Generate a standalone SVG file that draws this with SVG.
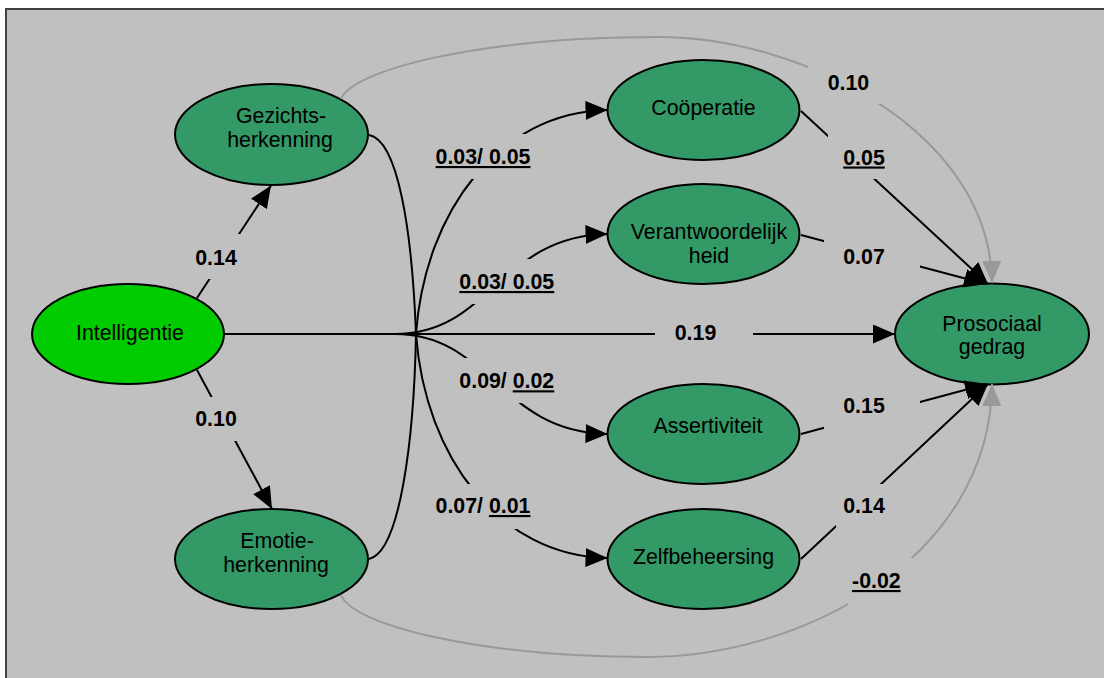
<svg xmlns="http://www.w3.org/2000/svg" width="1104" height="678" viewBox="0 0 1104 678">
<defs>
<style>
.nd{stroke:#000;stroke-width:2}
.g{fill:#339966}
.lg{fill:#00cc00}
.nt{font-family:"Liberation Sans",Arial,sans-serif;font-size:21.33px;fill:#000;text-anchor:middle}
.c{fill:none;stroke:#000;stroke-width:2}
.cg{fill:none;stroke:#999999;stroke-width:2}
.lb{fill:#c0c0c0}
.lt{font-family:"Liberation Sans",Arial,sans-serif;font-size:21.33px;font-weight:bold;fill:#000;text-anchor:middle}
.u{text-decoration:underline}
</style>
<marker id="ab" markerUnits="userSpaceOnUse" viewBox="0 0 22 19" refX="22" refY="9.5" markerWidth="22" markerHeight="19" orient="auto"><path d="M0,0 L22,9.5 L0,19 z" fill="#000"/></marker>
<marker id="ag" markerUnits="userSpaceOnUse" viewBox="0 0 22 19" refX="22" refY="9.5" markerWidth="22" markerHeight="19" orient="auto"><path d="M0,0 L22,9.5 L0,19 z" fill="#999999"/></marker>
</defs>
<rect width="1104" height="678" fill="#fff"/>
<rect x="6" y="9" width="1110" height="680" fill="#c0c0c0" stroke="#404040" stroke-width="2"/>

<g id="n-gezichts"><ellipse class="nd g" cx="271.5" cy="134.5" rx="96.5" ry="50.5"/><text class="nt" x="281" y="123">Gezichts-</text><text class="nt" x="280" y="147">herkenning</text></g>
<g id="n-intelligentie"><ellipse class="nd lg" cx="128" cy="334" rx="96" ry="50"/><text class="nt" x="130" y="340">Intelligentie</text></g>
<g id="n-emotie"><ellipse class="nd g" cx="271.5" cy="559" rx="96.5" ry="50"/><text class="nt" x="277" y="548">Emotie-</text><text class="nt" x="276" y="572">herkenning</text></g>
<g id="n-cooperatie"><ellipse class="nd g" cx="703.5" cy="110" rx="96" ry="50"/><text class="nt" x="703.5" y="115">Coöperatie</text></g>
<g id="n-verantwoordelijkheid"><ellipse class="nd g" cx="703.5" cy="234" rx="96" ry="50"/><text class="nt" x="709" y="239">Verantwoordelijk</text><text class="nt" x="709" y="263">heid</text></g>
<g id="n-assertiviteit"><ellipse class="nd g" cx="703.5" cy="434" rx="96" ry="50"/><text class="nt" x="708" y="433">Assertiviteit</text></g>
<g id="n-zelfbeheersing"><ellipse class="nd g" cx="703.5" cy="559" rx="96" ry="50"/><text class="nt" x="703.5" y="564">Zelfbeheersing</text></g>
<g id="n-prosociaal"><ellipse class="nd g" cx="992" cy="334" rx="97" ry="50.5"/><text class="nt" x="992" y="331">Prosociaal</text><text class="nt" x="992" y="354">gedrag</text></g>

<g id="connectors">
<path class="c" d="M197,298 L271,185.5" marker-end="url(#ab)"/>
<path class="c" d="M197,370 L272,509" marker-end="url(#ab)"/>
<path class="c" d="M224,334 L895,334" marker-end="url(#ab)"/>
<path class="c" d="M369,135 C398,140 412,230 416,334"/>
<path class="c" d="M369,559 C400,552 414,440 416,334"/>
<path class="c" d="M416,334 C425,210 500,112 607.5,110" marker-end="url(#ab)"/>
<path class="c" d="M395,334 C490,334 500,236 607.5,234" marker-end="url(#ab)"/>
<path class="c" d="M395,334 C490,334 500,432 607.5,434" marker-end="url(#ab)"/>
<path class="c" d="M416,334 C425,458 500,556 607.5,558" marker-end="url(#ab)"/>
<path class="c" d="M801,111 L988,284" marker-end="url(#ab)"/>
<path class="c" d="M801,235 L986,284" marker-end="url(#ab)"/>
<path class="c" d="M801,434 L987,384" marker-end="url(#ab)"/>
<path class="c" d="M801,559 L988,384" marker-end="url(#ab)"/>
<path class="cg" d="M341,99 C352,70 480,37 659,37 C800,37 990,130 992,283" marker-end="url(#ag)"/>
<path class="cg" d="M341,595 C352,625 480,657 648,657 C800,657 990,560 992,384" marker-end="url(#ag)"/>

<g><rect class="lb" x="192" y="234" width="50" height="45"/><text class="lt" x="216" y="265">0.14</text></g>
<g><rect class="lb" x="192" y="397" width="50" height="44"/><text class="lt" x="216" y="425.7">0.10</text></g>
<g><rect class="lb" x="655" y="312" width="98" height="44"/><text class="lt" x="695.5" y="340">0.19</text></g>
<g><rect class="lb" x="432" y="134" width="100" height="45"/><text class="lt u" x="483" y="164">0.03/ 0.05</text></g>
<g><rect class="lb" x="455" y="259" width="103" height="45"/><text class="lt u" x="506.8" y="289">0.03/ 0.05</text></g>
<g><rect class="lb" x="455" y="358" width="103" height="45"/><text class="lt" x="506.8" y="388.3">0.09/ <tspan class="u">0.02</tspan></text></g>
<g><rect class="lb" x="432" y="484" width="100" height="45"/><text class="lt" x="483" y="513">0.07/ <tspan class="u">0.01</tspan></text></g>
<g><rect class="lb" x="808" y="60" width="82" height="44"/><text class="lt" x="848.4" y="89.5">0.10</text></g>
<g><rect class="lb" x="828" y="132" width="62" height="47"/><text class="lt u" x="864" y="164.5">0.05</text></g>
<g><rect class="lb" x="824" y="236" width="96" height="44"/><text class="lt" x="864" y="264">0.07</text></g>
<g><rect class="lb" x="824" y="386" width="96" height="46"/><text class="lt" x="864" y="413">0.15</text></g>
<g><rect class="lb" x="836" y="484" width="52" height="50"/><text class="lt" x="864" y="513">0.14</text></g>
<g><rect class="lb" x="848" y="558" width="66" height="48"/><text class="lt u" x="876.4" y="588">-0.02</text></g>
</g>
</svg>
